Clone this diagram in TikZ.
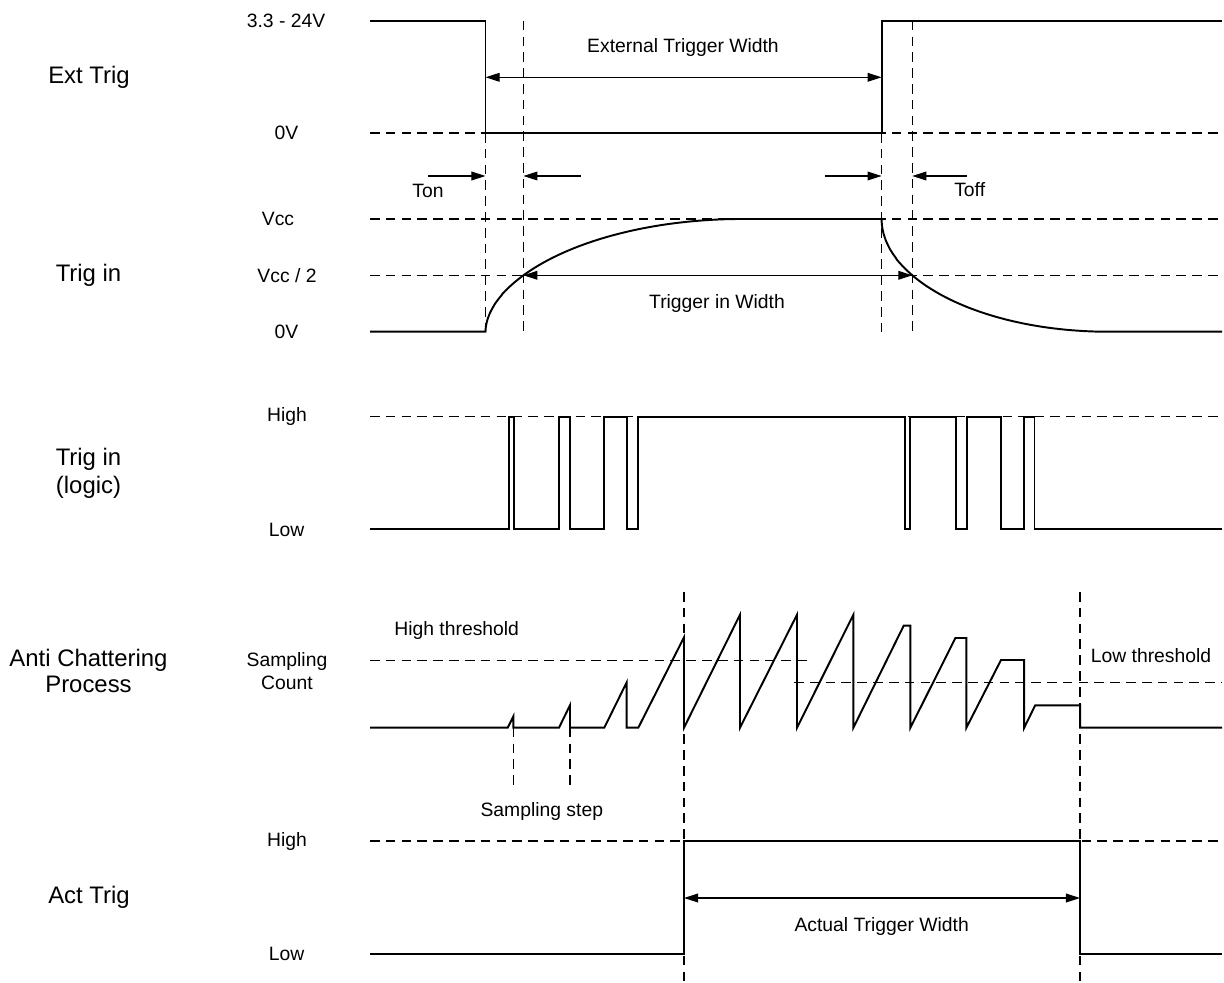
\documentclass[tikz,border=0pt]{standalone}
\usepackage{fontspec}
\setmainfont{Liberation Sans}
\usetikzlibrary{arrows.meta}
\tikzset{
  sig/.style={line width=1.1pt, line join=miter},
  dsh/.style={line width=0.7pt, dash pattern=on 5.5pt off 3.5pt},
  dimline/.style={line width=0.6pt, -{Triangle[length=8pt,width=5pt]}},
  dimboth/.style={line width=0.6pt, {Triangle[length=8pt,width=5pt]}-{Triangle[length=8pt,width=5pt]}},
  biglbl/.style={font=\fontsize{13.6}{16}\selectfont, align=center, inner sep=0pt},
  smlbl/.style={font=\fontsize{11}{13}\selectfont, align=center, inner sep=0pt},
}
\begin{document}
\begin{tikzpicture}[x=0.02cm, y=-0.02cm]
\useasboundingbox (0,0) rectangle (1224,983);

% ---------- left labels ----------
\node[biglbl] (lExt) at (89,77) {Ext Trig};
\node[biglbl] (lTrig) at (88.5,275) {Trig in};
\node[biglbl, font=\fontsize{13.6}{16}\selectfont] (lLogic) at (88.5,473) {Trig in\\(logic)};
\node[biglbl, font=\fontsize{13.6}{15.2}\selectfont] (lAnti) at (88.5,671) {Anti Chattering\\Process};
\node[biglbl] (lAct) at (89,897) {Act Trig};

% ---------- level labels ----------
\node[smlbl] (v33) at (286,20.7) {3.3 - 24V};
\node[smlbl] (v0a) at (286.5,133) {0V};
\node[smlbl] (vcc) at (278,219) {Vcc};
\node[smlbl] (vcc2) at (287,275.3) {Vcc / 2};
\node[smlbl] (v0b) at (286.5,331.7) {0V};
\node[smlbl] (hi1) at (287,416.7) {High};
\node[smlbl] (lo1) at (286.7,530) {Low};
\node[smlbl, font=\fontsize{11}{13}\selectfont] (scnt) at (287,671.5) {Sampling\\Count};
\node[smlbl] (hi2) at (287,841.5) {High};
\node[smlbl] (lo2) at (286.7,954.3) {Low};

% ---------- dashed reference lines ----------
\draw[dsh] (370,133) -- (1222,133);
\draw[dsh] (370,219) -- (1222,219);
\draw[dsh] (370,275.3) -- (1222,275.3);
\draw[dsh] (370,416.7) -- (1222,416.7);
\draw[dsh] (370,660.3) -- (810.7,660.3);
\draw[dsh] (794,682.3) -- (1222,682.3);
\draw[dsh] (370,841) -- (1222,841);

\draw[dsh] (485.5,133) -- (485.5,331.7);
\draw[dsh] (523.4,20.7) -- (523.4,331.7);
\draw[dsh] (881.6,133) -- (881.6,331.7);
\draw[dsh] (912.3,20.7) -- (912.3,331.7);
\draw[dsh] (684,592) -- (684,983);
\draw[dsh] (1080,592) -- (1080,983);
\draw[dsh] (513.3,727.7) -- (513.3,785);
\draw[dsh] (570,727.7) -- (570,785);

% ---------- Ext Trig ----------
\draw[sig] (370,20.7) -- (485.5,20.7) -- (485.5,133) -- (881.6,133) -- (881.6,20.7) -- (1222,20.7);
\coordinate (ewL) at (485.5,77.3);
\coordinate (ewR) at (881.6,77.3);
\draw[dimboth] (ewL) -- (ewR);
\node[smlbl] (ewT) at (683,48) {External Trigger Width};

% ---------- Ton / Toff ----------
\coordinate (ton1s) at (428,176);
\coordinate (ton1e) at (485.5,176);
\coordinate (ton2s) at (580.8,176);
\coordinate (ton2e) at (523.4,176);
\coordinate (tof1s) at (825,176);
\coordinate (tof1e) at (881.6,176);
\coordinate (tof2s) at (966.7,176);
\coordinate (tof2e) at (912.3,176);
\draw[dimline] (ton1s) -- (ton1e);
\draw[dimline] (ton2s) -- (ton2e);
\draw[dimline] (tof1s) -- (tof1e);
\draw[dimline] (tof2s) -- (tof2e);
\node[smlbl] (tonT) at (428,191) {Ton};
\node[smlbl] (toffT) at (969.7,190) {Toff};

% ---------- Trig in ----------
\draw[sig] (370,331.7) -- (485.5,331.7)
  -- plot[domain=0.02:1, samples=70, variable=\s] ({485.5+256.5*\s*\s}, {331.7-112.7*((\s*\s)*(2-\s*\s))^0.535})
  -- (881.6,219)
  -- plot[domain=0.02:1, samples=70, variable=\s] ({881.6+226.4*\s*\s}, {219+112.7*((\s*\s)*(2-\s*\s))^0.505})
  -- (1222,331.7);
\coordinate (twL) at (523.4,275.3);
\coordinate (twR) at (912.3,275.3);
\draw[dimboth] (twL) -- (twR);
\node[smlbl] (twT) at (717,304) {Trigger in Width};

% ---------- Trig in (logic) ----------
\def\H{416.7}
\def\L{529.3}
\draw[sig] (370,\L) -- (508.7,\L) -- (508.7,\H) -- (513.7,\H) -- (513.7,\L)
  -- (559.2,\L) -- (559.2,\H) -- (569.9,\H) -- (569.9,\L)
  -- (604.4,\L) -- (604.4,\H) -- (627,\H) -- (627,\L)
  -- (638.4,\L) -- (638.4,\H) -- (904.8,\H) -- (904.8,\L)
  -- (910.2,\L) -- (910.2,\H) -- (955.7,\H) -- (955.7,\L)
  -- (966.8,\L) -- (966.8,\H) -- (1001.2,\H) -- (1001.2,\L)
  -- (1023.8,\L) -- (1023.8,\H) -- (1034.5,\H) -- (1034.5,\L)
  -- (1222,\L);

% ---------- Anti chattering ----------
\def\B{727.7}
\draw[sig] (370,\B) -- (507.7,\B) -- (513.3,716.5) -- (513.3,\B)
  -- (559,\B) -- (570,705.2) -- (570,\B)
  -- (604.3,\B) -- (626.7,682.3) -- (626.7,\B)
  -- (638.3,\B) -- (684,637.3) -- (684,\B)
  -- (740,614.7) -- (740,\B)
  -- (797,614.7) -- (797,\B)
  -- (853.4,614.7) -- (853.4,\B)
  -- (903.7,625.7) -- (910.4,625.7) -- (910.4,\B)
  -- (955.4,638) -- (966.4,638) -- (966.4,\B)
  -- (1001,660) -- (1024.2,660) -- (1024.2,\B)
  -- (1035.2,705.3) -- (1080.2,705.3) -- (1080.2,\B)
  -- (1222,\B);
\node[smlbl] (hthT) at (456.7,630.7) {High threshold};
\node[smlbl] (lthT) at (1151,656) {Low threshold};
\node[smlbl] (sstT) at (541.8,811.7) {Sampling step};

% ---------- Act Trig ----------
\draw[sig] (370,954.3) -- (684,954.3) -- (684,841) -- (1080,841) -- (1080,954.3) -- (1222,954.3);
\coordinate (awL) at (684,898);
\coordinate (awR) at (1080,898);
\draw[dimboth] (awL) -- (awR);
\node[smlbl] (awT) at (881.7,926) {Actual Trigger Width};
\end{tikzpicture}
\end{document}
